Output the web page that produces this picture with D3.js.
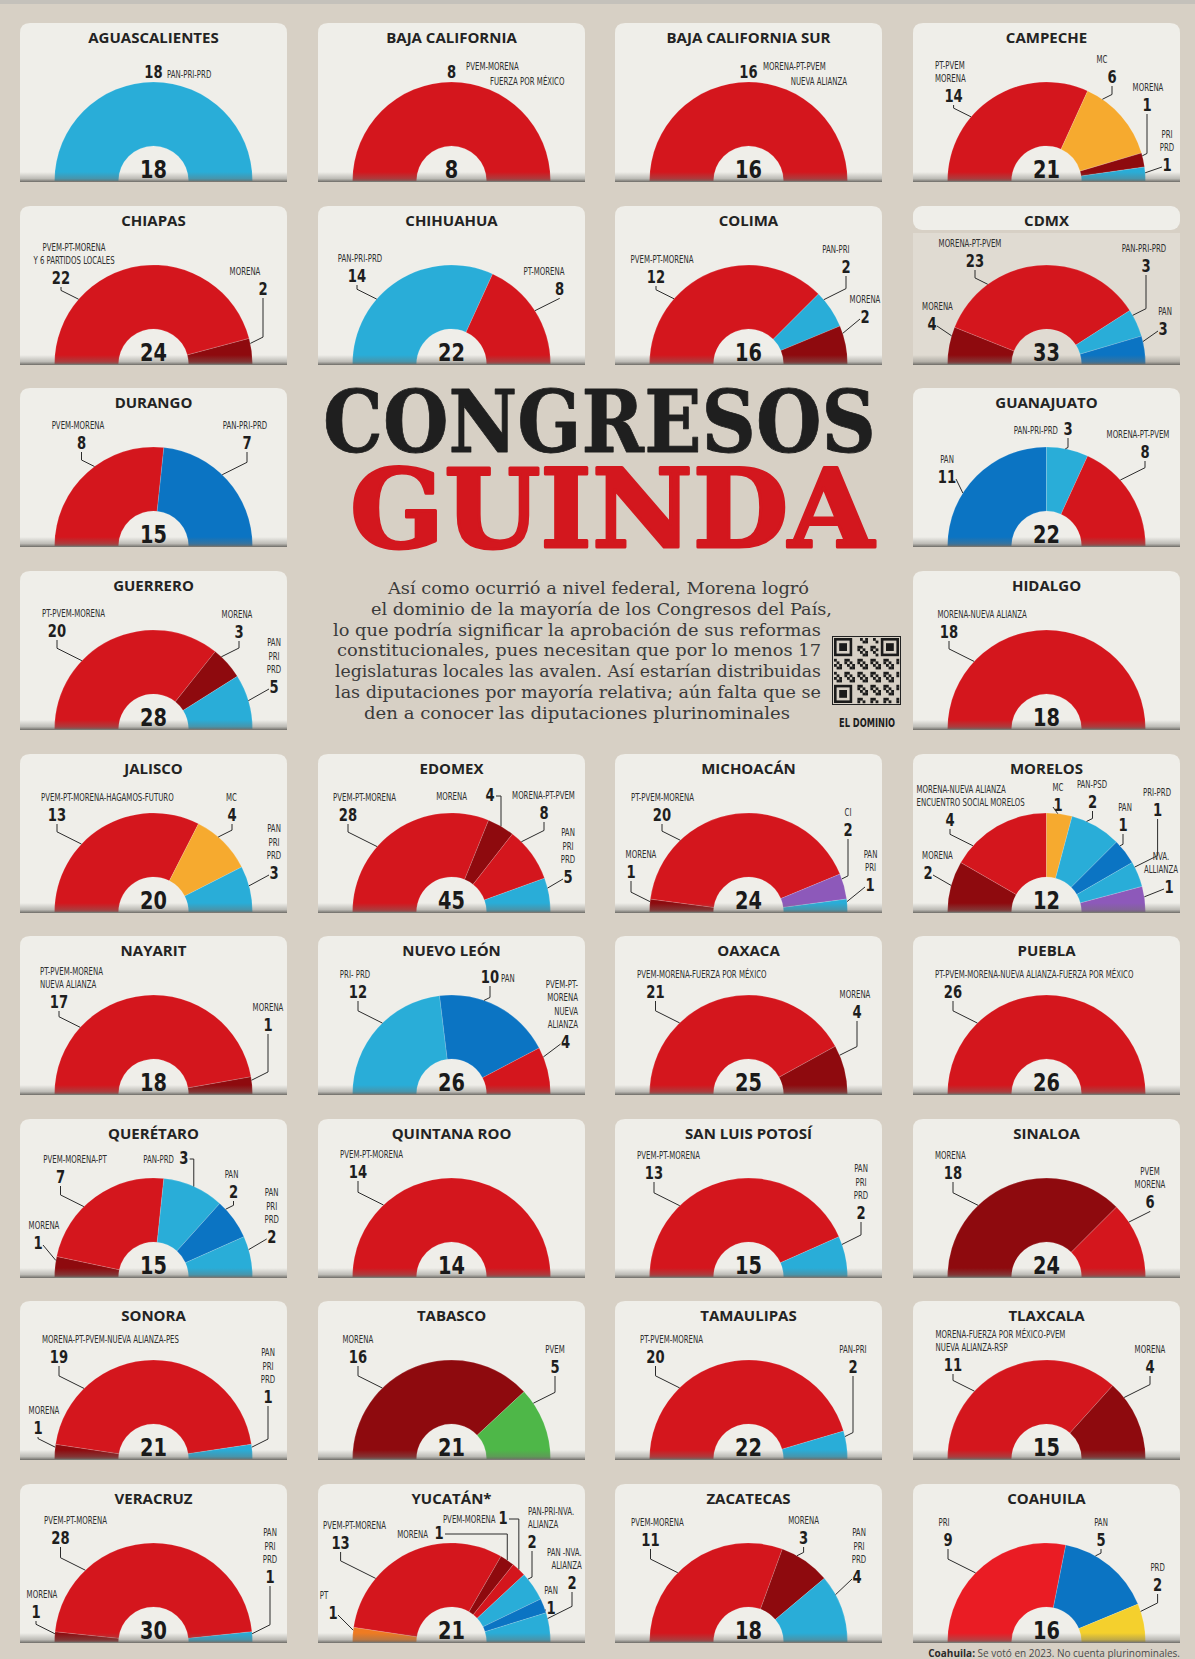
<!DOCTYPE html>
<html>
<head>
<meta charset="utf-8">
<script src="https://cdn.jsdelivr.net/npm/d3@7"></script>
<style>
  body { margin: 0; background: #d7d0c5; }
  svg { display: block; }
  .ttl { font: bold 15px "Open Sans", "DejaVu Sans", sans-serif; fill: #232323; text-anchor: middle; }
  .num { font: bold 17px "DejaVu Sans Condensed", "Liberation Sans Narrow", sans-serif; fill: #1e1e1e; }
  .lab { font: 10.5px "DejaVu Sans Condensed", "Liberation Sans Narrow", sans-serif; fill: #2e2e2e; }
  .tot { font: bold 25px "DejaVu Sans Condensed", "Liberation Sans Narrow", sans-serif; fill: #1a1a1a; }
</style>
</head>
<body>
<div id="chart"></div>
<script>
const W = 1195, H = 1659;

// ---- data ----
const states = ["AGUASCALIENTES", "BAJA CALIFORNIA", "BAJA CALIFORNIA SUR", "CAMPECHE",
                "CHIAPAS", "CHIHUAHUA", "COLIMA", "CDMX",
                "DURANGO", "GUANAJUATO",
                "GUERRERO", "HIDALGO",
                "JALISCO", "EDOMEX", "MICHOACÁN", "MORELOS",
                "NAYARIT", "NUEVO LEÓN", "OAXACA", "PUEBLA",
                "QUERÉTARO", "QUINTANA ROO", "SAN LUIS POTOSÍ", "SINALOA",
                "SONORA", "TABASCO", "TAMAULIPAS", "TLAXCALA",
                "VERACRUZ", "YUCATÁN*", "ZACATECAS", "COAHUILA"];

const totals = [18, 8, 16, 21, 24, 22, 16, 33, 15, 22, 28, 18, 20, 45, 24, 12,
                18, 26, 25, 26, 15, 14, 15, 24, 21, 21, 22, 15, 30, 21, 18, 16];

// seats per coalition, left to right along the arc
const seats = [[18], [8], [16], [14, 6, 1, 1],
               [22, 2], [14, 8], [12, 2, 2], [4, 23, 3, 3],
               [8, 7], [11, 3, 8],
               [20, 3, 5], [18],
               [13, 4, 3], [28, 4, 8, 5], [1, 20, 2, 1], [2, 4, 1, 2, 1, 1, 1],
               [17, 1], [12, 10, 4], [21, 4], [26],
               [1, 7, 3, 2, 2], [14], [13, 2], [18, 6],
               [1, 19, 1], [16, 5], [20, 2], [11, 4],
               [1, 28, 1], [1, 13, 1, 1, 2, 1, 2], [11, 3, 4], [9, 5, 2]];

// "|" breaks a name into lines
const parties = [["PAN-PRI-PRD"], ["PVEM-MORENA|FUERZA POR MÉXICO"], ["MORENA-PT-PVEM|NUEVA ALIANZA"],
                 ["PT-PVEM|MORENA", "MC", "MORENA", "PRI|PRD"],
                 ["PVEM-PT-MORENA|Y 6 PARTIDOS LOCALES", "MORENA"],
                 ["PAN-PRI-PRD", "PT-MORENA"],
                 ["PVEM-PT-MORENA", "PAN-PRI", "MORENA"],
                 ["MORENA", "MORENA-PT-PVEM", "PAN-PRI-PRD", "PAN"],
                 ["PVEM-MORENA", "PAN-PRI-PRD"],
                 ["PAN", "PAN-PRI-PRD", "MORENA-PT-PVEM"],
                 ["PT-PVEM-MORENA", "MORENA", "PAN|PRI|PRD"],
                 ["MORENA-NUEVA ALIANZA"],
                 ["PVEM-PT-MORENA-HAGAMOS-FUTURO", "MC", "PAN|PRI|PRD"],
                 ["PVEM-PT-MORENA", "MORENA", "MORENA-PT-PVEM", "PAN|PRI|PRD"],
                 ["MORENA", "PT-PVEM-MORENA", "CI", "PAN|PRI"],
                 ["MORENA", "MORENA-NUEVA ALIANZA|ENCUENTRO SOCIAL MORELOS", "MC", "PAN-PSD", "PAN", "PRI-PRD", "NVA.|ALLIANZA"],
                 ["PT-PVEM-MORENA|NUEVA ALIANZA", "MORENA"],
                 ["PRI- PRD", "PAN", "PVEM-PT-|MORENA|NUEVA|ALIANZA"],
                 ["PVEM-MORENA-FUERZA POR MÉXICO", "MORENA"],
                 ["PT-PVEM-MORENA-NUEVA ALIANZA-FUERZA POR MÉXICO"],
                 ["MORENA", "PVEM-MORENA-PT", "PAN-PRD", "PAN", "PAN|PRI|PRD"],
                 ["PVEM-PT-MORENA"],
                 ["PVEM-PT-MORENA", "PAN|PRI|PRD"],
                 ["MORENA", "PVEM|MORENA"],
                 ["MORENA", "MORENA-PT-PVEM-NUEVA ALIANZA-PES", "PAN|PRI|PRD"],
                 ["MORENA", "PVEM"],
                 ["PT-PVEM-MORENA", "PAN-PRI"],
                 ["MORENA-FUERZA POR MÉXICO-PVEM|NUEVA ALIANZA-RSP", "MORENA"],
                 ["MORENA", "PVEM-PT-MORENA", "PAN|PRI|PRD"],
                 ["PT", "PVEM-PT-MORENA", "MORENA", "PVEM-MORENA", "PAN-PRI-NVA.|ALIANZA", "PAN", "PAN -NVA.|ALIANZA"],
                 ["PVEM-MORENA", "MORENA", "PAN|PRI|PRD"],
                 ["PRI", "PAN", "PRD"]];

const colorKeys = [["L"], ["R"], ["R"], ["R", "O", "D", "L"],
                   ["R", "D"], ["L", "R"], ["R", "L", "D"], ["D", "R", "L", "B"],
                   ["R", "B"], ["B", "L", "R"],
                   ["R", "D", "L"], ["R"],
                   ["R", "O", "L"], ["R", "D", "R", "L"], ["D", "R", "P", "L"], ["D", "R", "O", "L", "B", "L", "P"],
                   ["R", "D"], ["L", "B", "R"], ["R", "D"], ["R"],
                   ["D", "R", "L", "B", "L"], ["R"], ["R", "L"], ["D", "R"],
                   ["D", "R", "L"], ["D", "G"], ["R", "L"], ["R", "D"],
                   ["D", "R", "L"], ["T", "R", "D", "R", "L", "B", "L"], ["R", "D", "L"], ["C", "B", "Y"]];

const intro = ["Así como ocurrió a nivel federal, Morena logró",
               "el dominio de la mayoría de los Congresos del País,",
               "lo que podría significar la aprobación de sus reformas",
               "constitucionales, pues necesitan que por lo menos 17",
               "legislaturas locales las avalen. Así estarían distribuidas",
               "las diputaciones por mayoría relativa; aún falta que se",
               "den a conocer las diputaciones plurinominales"];

// ---- layout ----
const palette = { R: "#d4161d", D: "#8e0a0e", L: "#29add8", B: "#0b74c3", O: "#f6aa2f",
                  P: "#8d59ba", G: "#4eb748", Y: "#f4d02d", T: "#ef7b22", C: "#ea1c24" };

const colX = [20, 318, 615, 913],
      rowY = [23, 206, 388, 571, 754, 936, 1119, 1301, 1484];
const cardW = 267, cardH = 159;
const R0 = 35, R1 = 99, CY = 158;
const SX_LAB = 0.74, SX_NUM = 0.86, SX_TOT = 0.86;

// label: [number x, number baseline, name x, name anchor, leader type, 2nd line x]
const labelPos = [
  [[133.5, 55, 147, "s", "n"]],
  [[133.5, 55, 148, "s", "n", 246.5]],
  [[133.5, 55, 148, "s", "n", 232]],
  [[40.6, 79, 22, "s"], [199, 60, 189, "m"], [234, 88, 235, "m"], [254, 148, 254, "m"]],
  [[41, 78, 54, "m"], [243, 89, 225, "m"]],
  [[39, 76, 42, "m"], [241.5, 89, 226, "m"]],
  [[41, 77, 47, "m"], [231, 67, 221, "m"], [250, 117, 250, "m"]],
  [[19, 124, 24.5, "m"], [62, 61, 57, "m"], [233, 66, 231, "m"], [250, 129, 252, "m"]],
  [[61.5, 61, 58, "m"], [227, 61, 225, "m"]],
  [[34, 95, 34, "m"], [155, 47, 145, "e", "i"], [232, 70, 225, "m"]],
  [[37, 66, 22, "s"], [219, 67, 217, "m"], [254, 122, 254, "m"]],
  [[36, 67, 24.5, "s"]],
  [[37, 67, 21, "s"], [212, 67, 211.5, "m"], [254, 125, 254, "m"]],
  [[30, 67, 15, "s"], [172, 47, 149, "e", "h"], [226, 65, 225.5, "m"], [250, 129, 250, "m"]],
  [[16, 124, 26, "m"], [47, 67, 47.5, "m"], [233, 82, 233, "m"], [255, 137, 255.5, "m"]],
  [[15, 125, 24.5, "m"], [37, 72, 3.5, "s"], [145, 57, 145, "m"], [179.5, 54, 179, "m"],
   [210, 77, 212, "m"], [244.6, 62, 244, "m"], [256, 139, 248, "m"]],
  [[39, 72, 20, "s"], [248, 95, 248, "m"]],
  [[40, 62, 37, "m"], [172, 47, 183, "s", "t"], [247.6, 112, 260, "e"]],
  [[40.5, 62, 22, "s"], [242, 82, 240, "m"]],
  [[40, 62, 22, "s"]],
  [[18, 130, 24, "m"], [40.5, 64, 55, "m"], [163.7, 45, 154, "e", "h"], [213.5, 79, 211.5, "m"], [251.7, 124, 251.7, "m"]],
  [[40, 59, 22, "s"]],
  [[39, 60, 22, "s"], [246, 100, 246, "m"]],
  [[40, 60, 22, "s"], [237, 89, 237, "m"]],
  [[18, 133, 24, "m"], [39, 62, 22, "s"], [248, 102, 248, "m"]],
  [[40, 62, 24.5, "s"], [237, 72, 237, "m"]],
  [[40.5, 62, 25, "s"], [238, 72, 238, "m"]],
  [[40, 70, 22.6, "s"], [237, 72, 237, "m"]],
  [[16, 134, 22, "m"], [40.5, 60, 24, "s"], [250, 99, 250, "m"]],
  [[15, 135, 6, "m"], [22.6, 65, 5, "s"], [121, 55, 110, "e", "h"], [185, 40, 177.6, "e", "h"],
   [214, 64, 210, "s"], [233, 130, 233, "m"], [254, 105, 263.7, "e"]],
  [[35.5, 62, 16, "s"], [188.6, 60, 188.6, "m"], [242, 99, 244, "m"]],
  [[35, 62, 31, "m"], [188, 62, 188, "m"], [244.6, 107, 244.6, "m"]]
];

const introX = [388, 371, 333, 337, 335, 335, 364],
      introW = [421, 461, 488, 484, 486, 486, 426];

const anchors = { s: "start", m: "middle", e: "end" };

// ---- drawing ----
const svg = d3.select("#chart").append("svg").attr("width", W).attr("height", H);

svg.append("rect").attr("width", W).attr("height", H).attr("fill", "#d7d0c5");
svg.append("rect").attr("width", W).attr("height", 4).attr("fill", "#c4c1bb");

const defs = svg.append("defs");
const shade = defs.append("linearGradient").attr("id", "shade")
  .attr("x1", 0).attr("y1", 0).attr("x2", 0).attr("y2", 1);
shade.append("stop").attr("offset", "0%").attr("stop-color", "#74726c").attr("stop-opacity", 0);
shade.append("stop").attr("offset", "65%").attr("stop-color", "#74726c").attr("stop-opacity", 0.4);
shade.append("stop").attr("offset", "100%").attr("stop-color", "#66645f").attr("stop-opacity", 0.95);

// grid cells, skipping the four taken by the headline
const cells = [];
rowY.forEach((y, r) => colX.forEach((x, c) => {
  if ((r === 2 || r === 3) && (c === 1 || c === 2)) return;
  cells.push({ x, y });
}));

const arc = d3.arc().innerRadius(R0).outerRadius(R1);
const pie = d3.pie().sort(null).startAngle(-Math.PI / 2).endAngle(Math.PI / 2);

function cardPath(w, h, r) {
  return `M0,${h}V${r}Q0,0 ${r},0H${w - r}Q${w},0 ${w},${r}V${h}Z`;
}

// condensed text: drawn at (x, y) and squeezed horizontally
function ntext(g, x, y, str, cls, anchor, sx) {
  return g.append("text").attr("class", cls).attr("text-anchor", anchor)
    .attr("transform", `translate(${x},${y}) scale(${sx},1)`).text(str);
}

function drawLabel(g, a, spec, party, value, cx) {
  const [lx, ly, nx, anc, type = "v", x2] = spec;
  const lines = party.split("|");

  ntext(g, lx, ly, value, "num", "middle", SX_NUM);

  if (type === "n") {
    lines.forEach((t, j) => {
      ntext(g, j === 0 ? nx : x2, lines.length > 1 ? ly - 8 + j * 15 : ly, t, "lab",
            j === 0 ? "start" : "end", SX_LAB);
    });
    return;
  }
  if (type === "i" || type === "h" || type === "t") {
    ntext(g, nx, ly - 1, lines.join(" "), "lab", anchors[anc], SX_LAB);
  } else {
    lines.forEach((t, j) => {
      ntext(g, nx, ly - 20 - (lines.length - 1 - j) * 13.5, t, "lab", anchors[anc], SX_LAB);
    });
  }

  // leader line from the number to the arc
  const span = a.endAngle - a.startAngle;
  let phi = (a.startAngle + a.endAngle) / 2;
  if (type !== "h") {
    phi = Math.atan2(lx - cx, CY - ly);
    phi = Math.max(a.startAngle + 0.2 * span, Math.min(a.endAngle - 0.2 * span, phi));
  }
  const ax = cx + R1 * Math.sin(phi), ay = CY - R1 * Math.cos(phi);
  const hw = String(value).length * 4;
  let pts;
  if (type === "h") {
    pts = [[lx + hw + 2, ly - 5], [ax, ly - 5], [ax, ay]];
  } else {
    const ky = ay - 0.5 * Math.abs(lx - ax);
    if (ky > ly + 3) pts = [[lx, ly + 3], [lx, ky], [ax, ay]];
    else pts = [[lx > ax ? lx - hw - 1 : lx + hw + 1, ly - 4], [ax, ay]];
  }
  g.append("path").attr("d", d3.line()(pts))
    .attr("fill", "none").attr("stroke", "#2b2b2b").attr("stroke-width", 1);
}

states.forEach((name, i) => {
  const { x, y } = cells[i];
  const g = svg.append("g").attr("transform", `translate(${x},${y})`);
  const cx = cardW / 2;

  if (name === "CDMX") {
    g.append("rect").attr("y", 27).attr("width", cardW).attr("height", cardH - 27).attr("fill", "#e0dbd2");
    g.append("rect").attr("width", cardW).attr("height", 24).attr("rx", 9).attr("fill", "#efeee9");
  } else {
    g.append("path").attr("d", cardPath(cardW, cardH, 10)).attr("fill", "#efeee9");
  }

  g.append("text").attr("class", "ttl").attr("x", cx).attr("y", 20).text(name);

  const arcs = pie(seats[i]);
  g.append("g").attr("transform", `translate(${cx},${CY})`)
    .selectAll("path")
    .data(arcs)
    .join("path")
    .attr("d", arc)
    .attr("fill", (d, k) => palette[colorKeys[i][k]])
    .attr("stroke", "rgba(255,255,255,0.25)")
    .attr("stroke-width", 0.6);

  g.append("rect").attr("y", cardH - 10).attr("width", cardW).attr("height", 10).attr("fill", "url(#shade)");

  ntext(g, cx, CY - 3, totals[i], "tot", "middle", SX_TOT);

  arcs.forEach((a, k) => drawLabel(g, a, labelPos[i][k], parties[i][k], seats[i][k], cx));
});

// headline, squeezed to the measured width
function headline(str, x, y, width, size, color, weight) {
  const t = svg.append("text")
    .style("font", `bold ${size}px 'DejaVu Serif', serif`).attr("fill", color)
    .attr("stroke", color).attr("stroke-width", weight).attr("stroke-linejoin", "round")
    .text(str);
  const len = t.node().getComputedTextLength();
  t.attr("transform", `translate(${x},${y}) scale(${width / len},1)`);
}
headline("CONGRESOS", 323, 452, 553, 86, "#1f1f1f", 0.8);
headline("GUINDA", 350, 547, 524, 109, "#d3171e", 3);

svg.selectAll("text.intro")
  .data(intro)
  .join("text")
  .attr("class", "intro")
  .attr("x", (d, k) => introX[k])
  .attr("y", (d, k) => 594 + k * 20.8)
  .attr("textLength", (d, k) => introW[k])
  .attr("lengthAdjust", "spacingAndGlyphs")
  .style("font", "17.5px 'DejaVu Serif', serif")
  .attr("fill", "#3a3a3a")
  .text(d => d);

// QR-style badge
const qr = svg.append("g").attr("transform", "translate(834,638)");
const n = 25, m = 65 / n;
qr.append("rect").attr("x", -1.5).attr("y", -1.5).attr("width", 68).attr("height", 68)
  .attr("fill", "none").attr("stroke", "#222").attr("stroke-width", 1);
const finder = (r, c) => {
  qr.append("rect").attr("x", c * m).attr("y", r * m).attr("width", 7 * m).attr("height", 7 * m).attr("fill", "#1b1b1b");
  qr.append("rect").attr("x", (c + 1) * m).attr("y", (r + 1) * m).attr("width", 5 * m).attr("height", 5 * m).attr("fill", "#d7d0c5");
  qr.append("rect").attr("x", (c + 2) * m).attr("y", (r + 2) * m).attr("width", 3 * m).attr("height", 3 * m).attr("fill", "#1b1b1b");
};
finder(0, 0); finder(0, n - 7); finder(n - 7, 0);
for (let r = 0; r < n; r++) {
  for (let c = 0; c < n; c++) {
    const inFinder = (r < 8 && c < 8) || (r < 8 && c >= n - 8) || (r >= n - 8 && c < 8);
    if (inFinder) continue;
    if ((r * 7 + c * 13 + r * c) % 5 < 2) {
      qr.append("rect").attr("x", c * m).attr("y", r * m).attr("width", m + 0.2).attr("height", m + 0.2).attr("fill", "#1b1b1b");
    }
  }
}
ntext(svg, 867, 727, "EL DOMINIO", "num", "middle", 0.8).style("font-size", "11.5px");

// footnote
const foot = svg.append("text").attr("x", 1180).attr("y", 1657).attr("text-anchor", "end")
  .style("font", "10px 'Open Sans', sans-serif").attr("fill", "#4a4a4a");
foot.append("tspan").style("font-weight", "bold").attr("fill", "#2a2a2a").text("Coahuila: ");
foot.append("tspan").text("Se votó en 2023. No cuenta plurinominales.");
</script>
</body>
</html>
